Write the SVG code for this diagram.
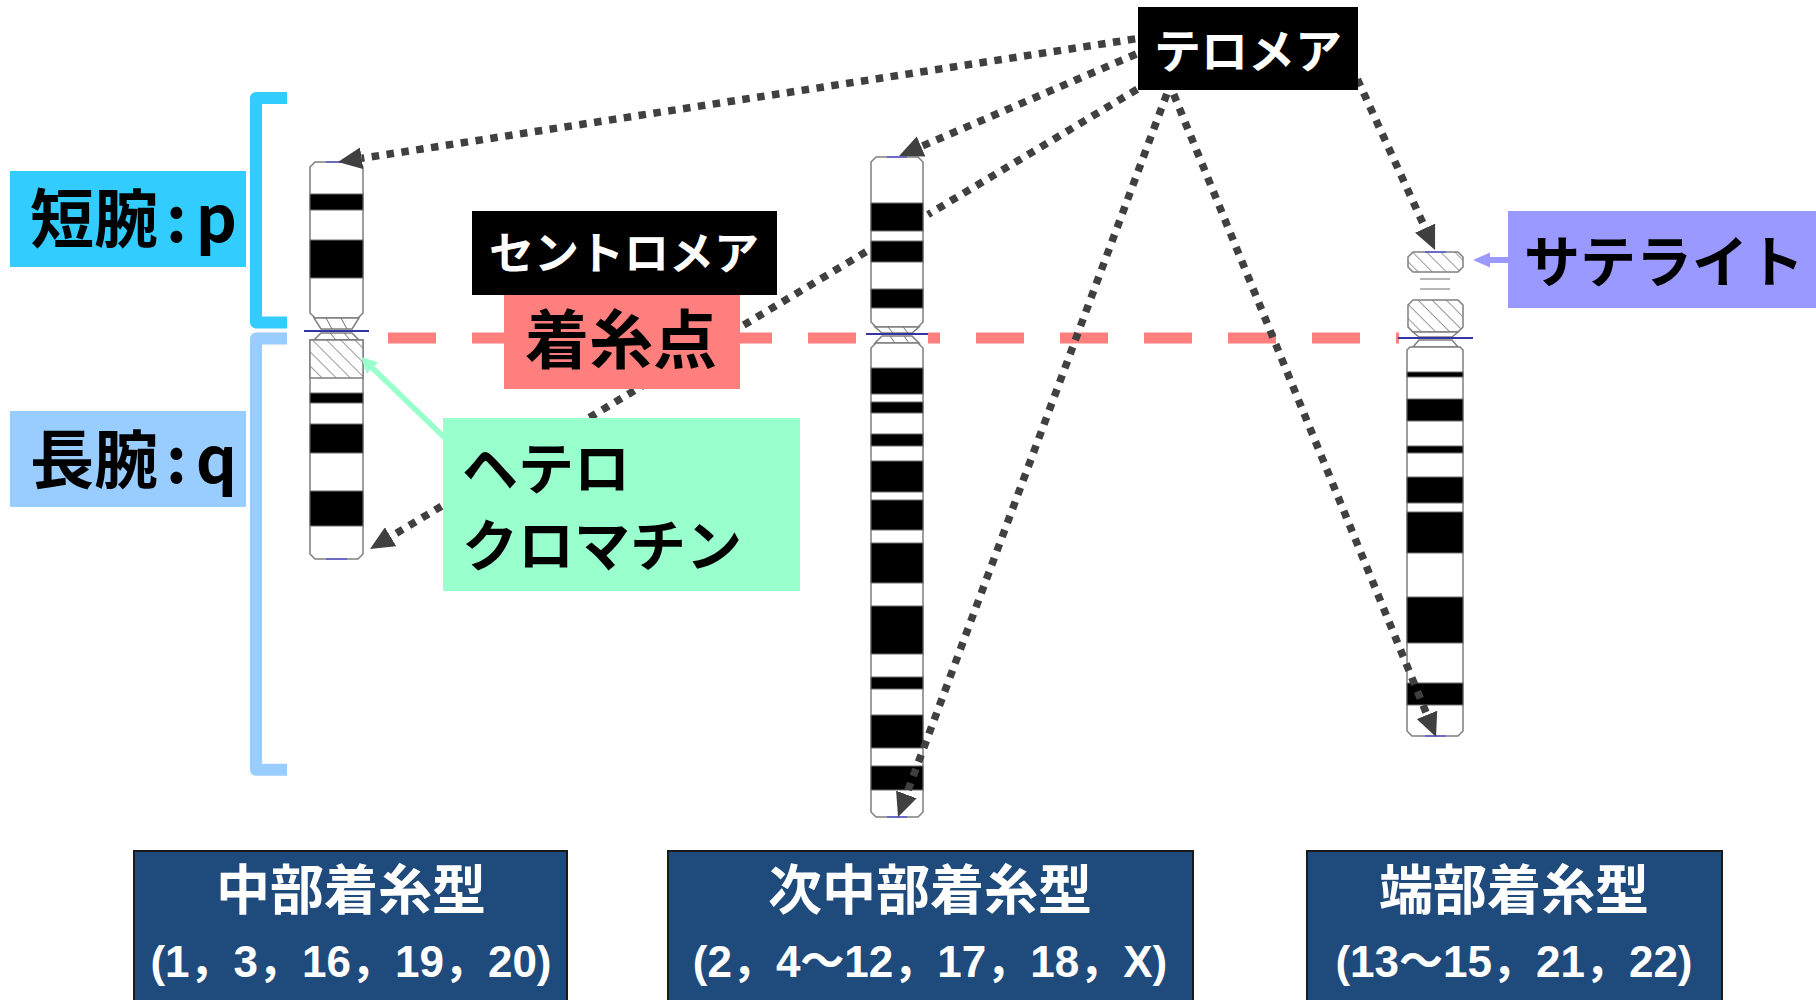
<svg xmlns="http://www.w3.org/2000/svg" width="1816" height="1000" viewBox="0 0 1816 1000">
<defs>
<style>
.jp{font-family:"Noto Sans CJK JP",sans-serif;font-weight:bold}
.num{font-family:"Liberation Sans","Noto Sans CJK JP",sans-serif;font-weight:bold}
.co{fill:#fff;stroke:#7f7f7f;stroke-width:1.5}
.bd{fill:#000;stroke:#6f6f6f;stroke-width:1}
.hz{fill:url(#hatch);stroke:#7f7f7f;stroke-width:1.5}
.hl{fill:none;stroke:#6f6f6f;stroke-width:1}
.cl{stroke:#3434a8;stroke-width:2}
.tip{stroke:#5a5ad0;stroke-width:1.5}
.telo{fill:none;stroke:#404040;stroke-width:7.5;stroke-dasharray:7.5 7.5}
.bracket{fill:none;stroke-width:12;stroke-linejoin:round}
.type{fill:#1f4a7c;stroke:#1a1a1a;stroke-width:2}
</style>
<pattern id="hatch" patternUnits="userSpaceOnUse" width="10" height="10" patternTransform="rotate(-45)">
<rect width="10" height="10" fill="#fff"/>
<line x1="0" y1="0" x2="0" y2="10" stroke="#555" stroke-width="1.2"/>
</pattern>
<marker id="ah" markerUnits="userSpaceOnUse" viewBox="0 0 24 22" markerWidth="24" markerHeight="22" refX="0" refY="11" orient="auto">
<path d="M0,0 L24,11 L0,22 Z" fill="#404040"/>
</marker>
<marker id="ag" markerUnits="userSpaceOnUse" viewBox="0 0 16 16" markerWidth="16" markerHeight="16" refX="0" refY="8" orient="auto">
<path d="M0,0 L16,8 L0,16 Z" fill="#99ffcc"/>
</marker>
<marker id="as" markerUnits="userSpaceOnUse" viewBox="0 0 17 15" markerWidth="17" markerHeight="15" refX="0" refY="7.5" orient="auto">
<path d="M0,0 L17,7.5 L0,15 Z" fill="#9999ff"/>
</marker>
</defs>
<rect width="1816" height="1000" fill="#fff"/>

<!-- centromere guide line -->
<g id="centromere-line">
<line x1="388" y1="338" x2="1400" y2="338" stroke="#ff7f7f" stroke-width="11" stroke-dasharray="48 36"/>
</g>

<!-- brackets -->
<g id="bracket-p">
<path class="bracket" stroke="#33ccff" d="M287,98 H256 V322.5 H287"/>
</g>
<g id="bracket-q">
<path class="bracket" stroke="#99ccff" d="M287,338.5 H256 V769.7 H287"/>
</g>

<!-- chromosome 1: metacentric -->
<g id="chr-metacentric">
<rect x="303" y="156" width="67" height="408" fill="#fff"/>
<path class="co" d="M310,167 L315,162 H358 L363,167 V313 L358,318 H315 L310,313 Z"/>
<rect class="bd" x="310" y="194" width="53" height="16"/>
<rect class="bd" x="310" y="240" width="53" height="38"/>
<path class="co" d="M314,318 H359 L352,329 H321 Z M321,333 H352 L359,340 H314 Z"/>
<path class="hl" d="M326,318 L332,329 M341,318 L347,329 M330,333 L336,340 M344,333 L350,340"/>
<line class="cl" x1="304" y1="331" x2="369" y2="331"/>
<path class="co" d="M310,340 H363 V554 L358,559 H315 L310,554 Z"/>
<rect class="hz" x="310" y="340" width="53" height="38"/>
<rect class="bd" x="310" y="393" width="53" height="10"/>
<rect class="bd" x="310" y="424" width="53" height="29"/>
<rect class="bd" x="310" y="491" width="53" height="35"/>
<line class="tip" x1="326" y1="162" x2="347" y2="162"/>
<line class="tip" x1="326" y1="559" x2="347" y2="559"/>
</g>

<!-- chromosome 2: submetacentric -->
<g id="chr-submetacentric">
<rect x="866" y="151" width="62" height="671" fill="#fff"/>
<path class="co" d="M871,162 L876,157 H918 L923,162 V322 L918,327 H876 L871,322 Z"/>
<rect class="bd" x="871" y="203" width="52" height="28"/>
<rect class="bd" x="871" y="241" width="52" height="21"/>
<rect class="bd" x="871" y="289" width="52" height="19"/>
<path class="co" d="M875,327 H919 L912,333 H882 Z M882,336 H912 L919,343 H875 Z"/>
<path class="hl" d="M888,327 L893,333 M903,327 L908,333 M890,336 L895,343 M904,336 L909,343"/>
<line class="cl" x1="866" y1="334" x2="928" y2="334"/>
<path class="co" d="M871,348 L876,343 H918 L923,348 V812 L918,817 H876 L871,812 Z"/>
<rect class="bd" x="871" y="368" width="52" height="26"/>
<rect class="bd" x="871" y="402" width="52" height="11"/>
<rect class="bd" x="871" y="434" width="52" height="12"/>
<rect class="bd" x="871" y="461" width="52" height="31"/>
<rect class="bd" x="871" y="500" width="52" height="30"/>
<rect class="bd" x="871" y="543" width="52" height="40"/>
<rect class="bd" x="871" y="606" width="52" height="48"/>
<rect class="bd" x="871" y="677" width="52" height="12"/>
<rect class="bd" x="871" y="715" width="52" height="33"/>
<rect class="bd" x="871" y="766" width="52" height="24"/>
<line class="tip" x1="887" y1="157" x2="907" y2="157"/>
<line class="tip" x1="887" y1="817" x2="907" y2="817"/>
</g>

<!-- chromosome 3: acrocentric -->
<g id="chr-acrocentric">
<rect x="1399" y="248" width="74" height="493" fill="#fff"/>
<path class="hz" d="M1413,252 H1458 L1463,257 V267 L1458,272 H1413 L1408,267 V257 Z"/>
<path class="hl" d="M1420,279 H1450 M1420,289 H1450" stroke="#999"/>
<path class="hz" d="M1413,300 H1458 L1463,305 V327 L1458,332 H1413 L1408,327 V305 Z"/>
<path class="co" d="M1413,332 H1458 L1452,337 H1419 Z M1419,340 H1452 L1458,347 H1413 Z"/>
<line class="cl" x1="1398" y1="338" x2="1473" y2="338"/>
<path class="co" d="M1407,350 L1410,347 H1460 L1463,350 V731 L1458,736 H1412 L1407,731 Z"/>
<rect class="bd" x="1407" y="372" width="56" height="5"/>
<rect class="bd" x="1407" y="399" width="56" height="22"/>
<rect class="bd" x="1407" y="446" width="56" height="7"/>
<rect class="bd" x="1407" y="477" width="56" height="26"/>
<rect class="bd" x="1407" y="512" width="56" height="41"/>
<rect class="bd" x="1407" y="597" width="56" height="46"/>
<rect class="bd" x="1407" y="683" width="56" height="22"/>
<line class="tip" x1="1425" y1="252" x2="1446" y2="252" stroke-width="2.5"/>
<line class="tip" x1="1425" y1="736" x2="1446" y2="736"/>
</g>

<!-- connectors -->
<g id="connectors">
<path class="telo" d="M1150,36.6 L361.7,158.3" marker-end="url(#ah)"/>
<path class="telo" d="M1150,48.1 L921.1,146.5" marker-end="url(#ah)"/>
<path class="telo" d="M1150,81.6 L928,214.6 M866,251.8 L390.6,536.7" marker-end="url(#ah)"/>
<path class="telo" d="M1172,80 L906.4,794.5" marker-end="url(#ah)"/>
<path class="telo" d="M1168,80.4 L1427,714.8" marker-end="url(#ah)"/>
<path class="telo" d="M1345,52 L1425.1,228.1" marker-end="url(#ah)"/>
<path d="M447,440 L372.5,368.1" fill="none" stroke="#99ffcc" stroke-width="5.5" marker-end="url(#ag)"/>
<path d="M1512,260 L1490,260" fill="none" stroke="#9999ff" stroke-width="6" marker-end="url(#as)"/>
</g>

<!-- label nodes -->
<g id="label-p">
<rect x="10" y="171" width="236" height="96" fill="#33ccff"/>
<text class="jp" x="30" y="242" font-size="64" fill="#000">短腕<tspan dx="8">:</tspan><tspan dx="9">p</tspan></text>
</g>
<g id="label-q">
<rect x="10" y="411" width="236" height="96" fill="#99ccff"/>
<text class="jp" x="30" y="483" font-size="64" fill="#000">長腕<tspan dx="8">:</tspan><tspan dx="9">q</tspan></text>
</g>
<g id="label-centromere">
<rect x="472" y="211" width="305" height="84" fill="#000"/>
<text class="jp" x="624" y="270" font-size="45" fill="#fff" text-anchor="middle">セントロメア</text>
</g>
<g id="label-kinetochore">
<rect x="504" y="295" width="236" height="94" fill="#ff7f7f"/>
<text class="jp" x="621" y="363" font-size="64" fill="#000" text-anchor="middle">着糸点</text>
</g>
<g id="label-heterochromatin">
<rect x="443" y="418" width="357" height="173" fill="#99ffcc"/>
<text class="jp" font-size="56" fill="#000"><tspan x="462" y="489">ヘテロ</tspan><tspan x="462" y="566">クロマチン</tspan></text>
</g>
<g id="label-telomere">
<rect x="1138" y="7" width="220" height="83" fill="#000"/>
<text class="jp" x="1248" y="68" font-size="47" fill="#fff" text-anchor="middle">テロメア</text>
</g>
<g id="label-satellite">
<rect x="1508" y="211" width="308" height="97" fill="#9999ff"/>
<text class="jp" x="1664" y="282" font-size="56" fill="#000" text-anchor="middle">サテライト</text>
</g>

<!-- type boxes -->
<g id="type-metacentric">
<rect class="type" x="134" y="851" width="433" height="160"/>
<text class="jp" x="351" y="910" font-size="54" fill="#fff" text-anchor="middle">中部着糸型</text>
<text class="num" x="351" y="977" font-size="44" fill="#fff" text-anchor="middle">(1，3，16，19，20)</text>
</g>
<g id="type-submetacentric">
<rect class="type" x="668" y="851" width="525" height="160"/>
<text class="jp" x="930" y="910" font-size="54" fill="#fff" text-anchor="middle">次中部着糸型</text>
<text class="num" x="930" y="977" font-size="44" fill="#fff" text-anchor="middle">(2，4〜12，17，18，X)</text>
</g>
<g id="type-acrocentric">
<rect class="type" x="1307" y="851" width="415" height="160"/>
<text class="jp" x="1514" y="910" font-size="54" fill="#fff" text-anchor="middle">端部着糸型</text>
<text class="num" x="1514" y="977" font-size="44" fill="#fff" text-anchor="middle">(13〜15，21，22)</text>
</g>
</svg>
